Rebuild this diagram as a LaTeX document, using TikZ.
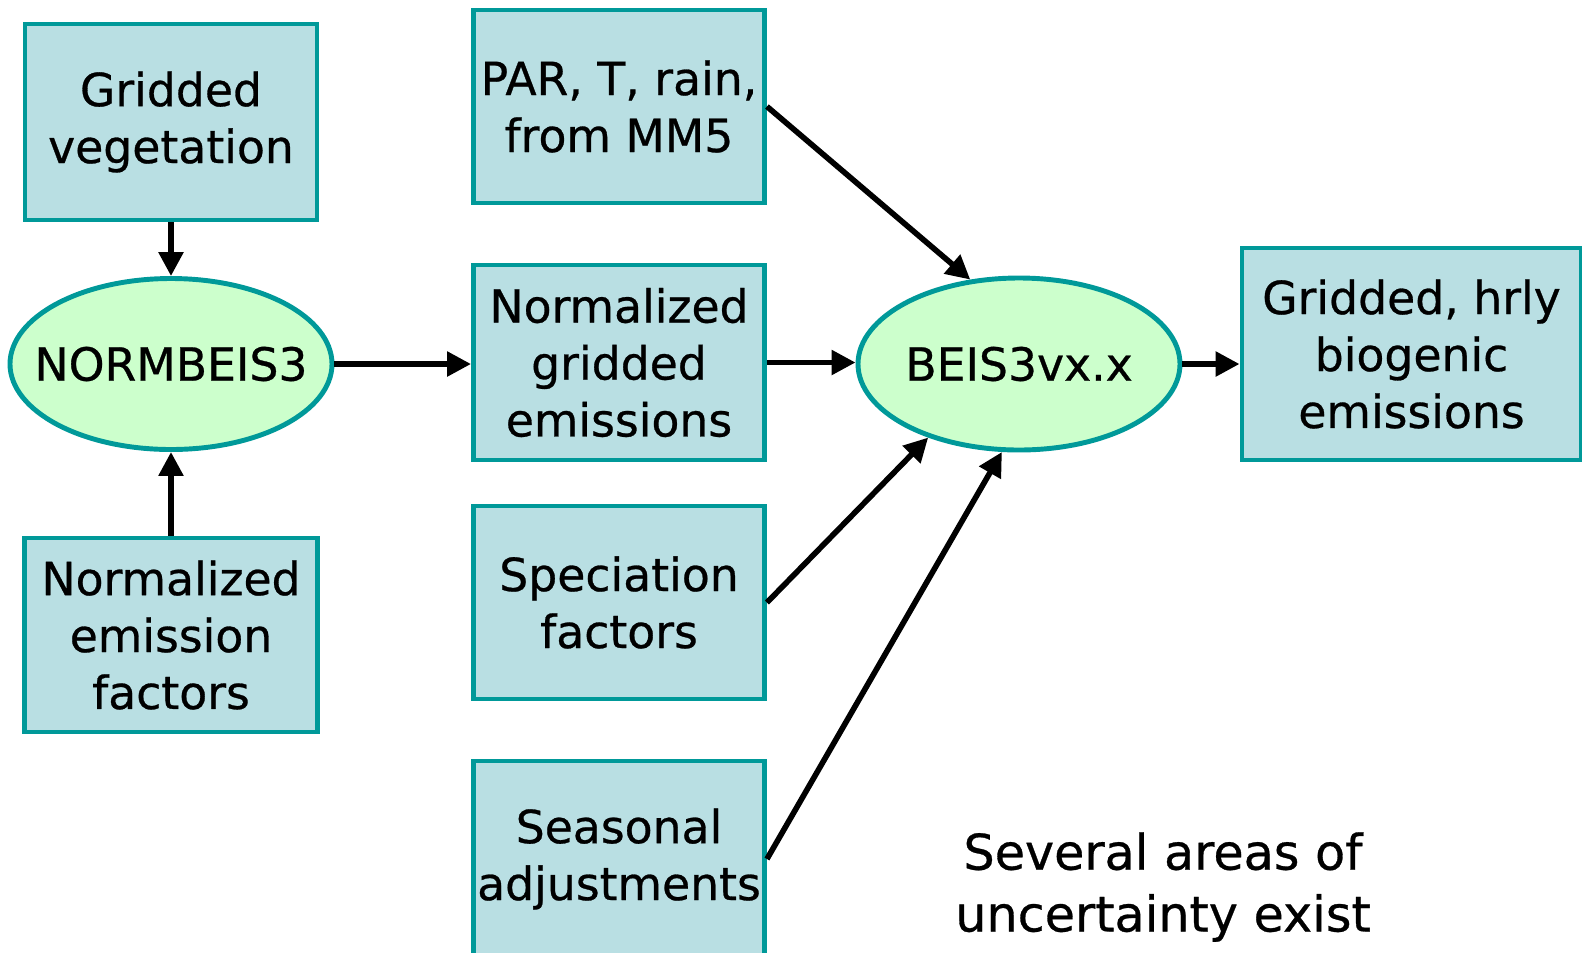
\documentclass[tikz,border=0pt]{standalone}
\usepackage{fontspec}
\setmainfont{DejaVu Sans}[BoldFont=DejaVu Sans, BoldFeatures={FakeBold=0.6}]
\usetikzlibrary{
    shapes.geometric,
    arrows.meta,
    positioning
}
\definecolor{boxteal}{RGB}{0, 153, 153}
\definecolor{boxfill}{RGB}{185, 223, 227}
\definecolor{procgreen}{RGB}{204, 255, 204}

\begin{document}
\begin{tikzpicture}[
        box/.style={rectangle, draw=boxteal, line width=1.4pt, fill=boxfill, minimum width=2.91cm, minimum height=1.93cm, inner sep=0pt, align=center, font=\fontsize{13}{16.2}\selectfont\bfseries},
        proc/.style={ellipse, draw=boxteal, line width=1.4pt, fill=procgreen, minimum width=3.2cm, minimum height=1.7cm, inner xsep=-0.4cm, inner ysep=-0.1cm, align=center, font=\fontsize{13}{16.2}\selectfont\bfseries},
        arrow/.style={-{Triangle[length=0.24cm, width=0.24cm]}, line width=1.6pt}
    ]
        \useasboundingbox (0,0) rectangle (15.82,-9.52);
        \clip (0,0) rectangle (15.82,-9.52);

        % Column 1: vegetation, NORMBEIS3, emission factors
        \node[box, minimum width=2.92cm, minimum height=1.96cm] (grid_veg) at (1.71,-1.22) {Gridded\\vegetation};
        \node[proc, minimum width=3.22cm, minimum height=1.71cm] (normbeis) at (1.71,-3.64) {NORMBEIS3};
        \node[box, minimum width=2.93cm, minimum height=1.94cm] (norm_ef) at (1.71,-6.35) {Normalized\\emission\\factors};

        % Column 2: inputs to BEIS3
        \node[box] (met) at (6.19,-1.065) {PAR, T, rain,\\from MM5};
        \node[box, minimum height=1.95cm] (norm_grid) at (6.19,-3.625) {Normalized\\gridded\\emissions};
        \node[box] (spec) at (6.19,-6.025) {Speciation\\factors};
        \node[box, minimum height=1.96cm] (season) at (6.19,-8.59) {Seasonal\\adjustments};

        % Column 3: BEIS3 and output
        \node[proc, minimum width=3.22cm, minimum height=1.72cm] (beis) at (10.19,-3.64) {BEIS3vx.x};
        \node[box, minimum width=3.39cm, minimum height=2.12cm] (out) at (14.115,-3.54) {Gridded, hrly\\biogenic\\emissions};

        % Note
        \node[align=center, font=\fontsize{14}{17.6}\selectfont\bfseries] (note) at (11.63,-8.87) {Several areas of\\uncertainty exist};

        % Arrows
        \draw[arrow] (grid_veg) -- (normbeis);
        \draw[arrow] (norm_ef) -- (normbeis);
        \draw[arrow] (normbeis.east) -- (normbeis.east -| norm_grid.west);
        \draw[arrow] (norm_grid.east) -- (norm_grid.east -| beis.west);
        \draw[arrow] (met.east) -- (beis.120);
        \draw[arrow] (spec.east) -- (beis.219);
        \draw[arrow] (season.east) -- (beis.259);
        \draw[arrow] (beis.east) -- (beis.east -| out.west);
    \end{tikzpicture}
\end{document}
